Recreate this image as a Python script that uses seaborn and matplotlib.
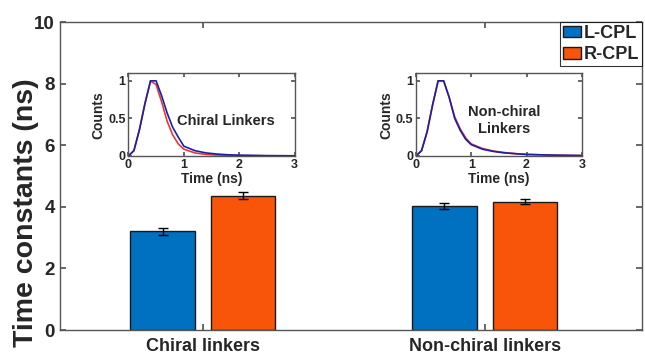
import pandas as pd
import numpy as np
import matplotlib.pyplot as plt
import seaborn as sns

sns.set_theme(style="ticks")
plt.rcParams['font.family'] = ['Liberation Sans', 'DejaVu Sans']
plt.rcParams['font.weight'] = 'bold'

# bar data
groups = ['Chiral linkers', 'Non-chiral linkers']
series = ['L-CPL', 'R-CPL']
l_cpl = [3.20, 4.03]
r_cpl = [4.36, 4.17]
l_err = [0.12, 0.09]
r_err = [0.12, 0.08]

# inset decay curves
t_ns = [0, 0.1, 0.2, 0.3, 0.4, 0.5, 0.6, 0.7, 0.8, 0.9, 1.0, 1.2, 1.4, 1.6, 1.8, 2.0, 2.5, 3.0]
chiral_l = [0, 0.07, 0.35, 0.70, 1.00, 1.00, 0.80, 0.57, 0.38, 0.25, 0.13, 0.07, 0.04, 0.025, 0.015, 0.01, 0.004, 0.002]
chiral_r = [0, 0.07, 0.35, 0.70, 1.00, 0.95, 0.72, 0.46, 0.28, 0.16, 0.09, 0.04, 0.02, 0.012, 0.008, 0.005, 0.002, 0.001]
nonchiral_l = [0, 0.07, 0.32, 0.68, 1.00, 1.00, 0.78, 0.50, 0.34, 0.22, 0.15, 0.09, 0.06, 0.04, 0.03, 0.02, 0.01, 0.005]
nonchiral_r = [0, 0.07, 0.32, 0.68, 1.00, 1.00, 0.78, 0.52, 0.36, 0.24, 0.16, 0.10, 0.065, 0.045, 0.03, 0.02, 0.01, 0.005]

bar_colors = ['#0070C0', '#F8540A']
line_colors = ['#1E1EA8', '#E03A3A']
spine_col = '#555555'

df = pd.DataFrame({
    'group': groups * 2,
    'pol': [series[0]] * 2 + [series[1]] * 2,
    'tau': l_cpl + r_cpl,
    'err': l_err + r_err,
})

fig = plt.figure(figsize=(6.45, 3.56), dpi=100)
ax = fig.add_axes([0.093, 0.073, 0.902, 0.865])

sns.barplot(data=df, x='group', y='tau', hue='pol', palette=bar_colors,
            width=0.572, gap=0.2, errorbar=None, edgecolor='#1a1a1a',
            linewidth=1.0, saturation=1, ax=ax)

# error bars on top of each bar
for cont, errs in zip(ax.containers, [l_err, r_err]):
    xs = [p.get_x() + p.get_width() / 2 for p in cont.patches]
    ys = [p.get_height() for p in cont.patches]
    ax.errorbar(xs, ys, yerr=errs, fmt='none', ecolor='black',
                elinewidth=1.0, capsize=3.5, capthick=1.0, zorder=5)

ax.set_ylim(0, 10)
ax.set_xlim(-0.507, 1.557)
ax.set_yticks([0, 2, 4, 6, 8, 10])
ax.set_xlabel('')
ax.set_ylabel('Time constants (ns)', fontsize=20.5, fontweight='bold')
ax.yaxis.set_label_coords(-0.036, 0.38)
ax.tick_params(axis='y', labelsize=13.5, direction='in', length=4, right=True, color=spine_col)
ax.tick_params(axis='x', labelsize=13, direction='in', length=4, top=True, color=spine_col, pad=6)
for s in ax.spines.values():
    s.set_visible(True)
    s.set_color(spine_col)
    s.set_linewidth(1.0)
for lbl in ax.get_xticklabels() + ax.get_yticklabels():
    lbl.set_fontweight('bold')

leg = ax.legend(loc='upper right', fontsize=13, frameon=True, fancybox=False,
                edgecolor='black', handlelength=1.0, handleheight=0.6,
                handletextpad=0.15, borderpad=0.15, labelspacing=0.25,
                borderaxespad=0.0)
leg.get_frame().set_linewidth(0.8)
for txt in leg.get_texts():
    txt.set_fontweight('bold')

# insets
insets = [
    ([0.199, 0.562, 0.258, 0.232], chiral_l, chiral_r, 'Chiral Linkers', (1.75, 0.46)),
    ([0.645, 0.562, 0.257, 0.232], nonchiral_l, nonchiral_r, 'Non-chiral\nLinkers', (1.6, 0.47)),
]
for rect, yl, yr, label, pos in insets:
    iax = fig.add_axes(rect)
    sns.lineplot(x=t_ns, y=yr, color=line_colors[1], linewidth=1.2, ax=iax)
    sns.lineplot(x=t_ns, y=yl, color=line_colors[0], linewidth=1.2, ax=iax)
    iax.set_xlim(0, 3)
    iax.set_ylim(0, 1.1)
    iax.set_xticks([0, 1, 2, 3])
    iax.set_yticks([0, 0.5, 1])
    iax.set_yticklabels(['0', '0.5', '1'])
    iax.tick_params(labelsize=9, direction='in', length=3, top=True, right=True,
                    color=spine_col, pad=2)
    for lbl in iax.get_xticklabels() + iax.get_yticklabels():
        lbl.set_fontweight('bold')
    iax.set_xlabel('Time (ns)', fontsize=10, fontweight='bold', labelpad=1)
    iax.set_ylabel('Counts', fontsize=10, fontweight='bold', labelpad=2)
    for s in iax.spines.values():
        s.set_visible(True)
        s.set_color(spine_col)
        s.set_linewidth(1.0)
    iax.text(pos[0], pos[1], label, fontsize=10.5, fontweight='bold',
             ha='center', va='center', linespacing=1.3)

fig.savefig('out.png', dpi=100)
